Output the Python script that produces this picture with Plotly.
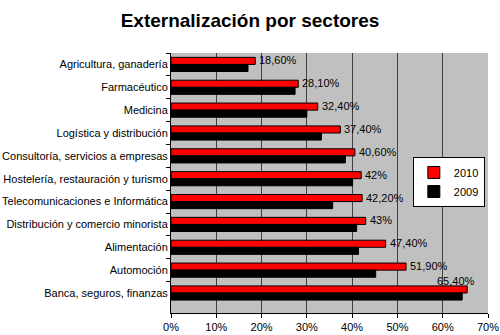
import plotly.graph_objects as go

sectores = [
    "Agricultura, ganadería",
    "Farmacéutico",
    "Medicina",
    "Logística y distribución",
    "Consultoría, servicios a empresas",
    "Hostelería, restauración y turismo",
    "Telecomunicaciones e Informática",
    "Distribución y comercio minorista",
    "Alimentación",
    "Automoción",
    "Banca, seguros, finanzas",
]
valores_2010 = [18.6, 28.1, 32.4, 37.4, 40.6, 42.0, 42.2, 43.0, 47.4, 51.9, 65.4]
valores_2009 = [17.0, 27.4, 30.0, 33.2, 38.5, 40.1, 35.7, 41.0, 41.4, 45.2, 64.3]
ticks_x = [0, 10, 20, 30, 40, 50, 60, 70]


def etiqueta(v):
    s = f"{v:.0f}" if v == int(v) else f"{v:.2f}"
    return s.replace(".", ",") + "%"


fig = go.Figure()
fig.add_trace(go.Bar(
    y=sectores, x=valores_2010, name="2010", orientation="h",
    marker=dict(color="#ff0000", line=dict(color="#000000", width=1)),
))
fig.add_trace(go.Bar(
    y=sectores, x=valores_2009, name="2009", orientation="h",
    marker=dict(color="#000000", line=dict(color="#000000", width=1)),
))

# value labels beside the 2010 bars; the last one sits above its bar
for i, (s, v) in enumerate(zip(sectores, valores_2010)):
    ultimo = i == len(sectores) - 1
    fig.add_annotation(
        x=v, y=s, text=etiqueta(v), showarrow=False,
        xanchor="right" if ultimo else "left",
        xshift=10 if ultimo else 2,
        yshift=12 if ultimo else 4,
        font=dict(family="Liberation Sans, Arial", size=11, color="#000000"),
    )

fig.update_layout(
    width=500, height=335,
    margin=dict(l=171, r=12, t=53, b=22),
    paper_bgcolor="#ffffff",
    plot_bgcolor="#c0c0c0",
    barmode="group",
    bargap=0.38,
    bargroupgap=0.0,
    title=dict(
        text="<b>Externalización por sectores</b>",
        x=0.5, xref="container", xanchor="center",
        y=1 - 20 / 335, yref="container", yanchor="middle",
        font=dict(family="Liberation Sans, Arial", size=19, color="#000000"),
    ),
    font=dict(family="Liberation Sans, Arial", size=11, color="#000000"),
    legend=dict(
        x=0.99, y=0.6, xanchor="right", yanchor="top",
        bgcolor="#ffffff", bordercolor="#000000", borderwidth=1,
        font=dict(size=11, color="#000000"),
        itemwidth=30, tracegroupgap=0,
    ),
    showlegend=True,
)
fig.update_xaxes(
    range=[0, 70], tickvals=ticks_x, ticktext=[f"{t}%" for t in ticks_x],
    showgrid=True, gridcolor="#404040", gridwidth=1,
    ticks="outside", ticklen=4, tickcolor="#000000",
    showline=True, linecolor="#000000", linewidth=1,
    zeroline=False, mirror=False, automargin=False,
    ticklabeloverflow="allow",
    tickfont=dict(size=11, color="#000000"),
)
fig.update_yaxes(
    autorange="reversed",
    ticks="outside", ticklen=4, tickcolor="#000000", tickson="boundaries",
    showline=True, linecolor="#000000", linewidth=1,
    showgrid=False, automargin=False,
    tickfont=dict(size=11, color="#000000"),
)

fig.write_html("out.html")
